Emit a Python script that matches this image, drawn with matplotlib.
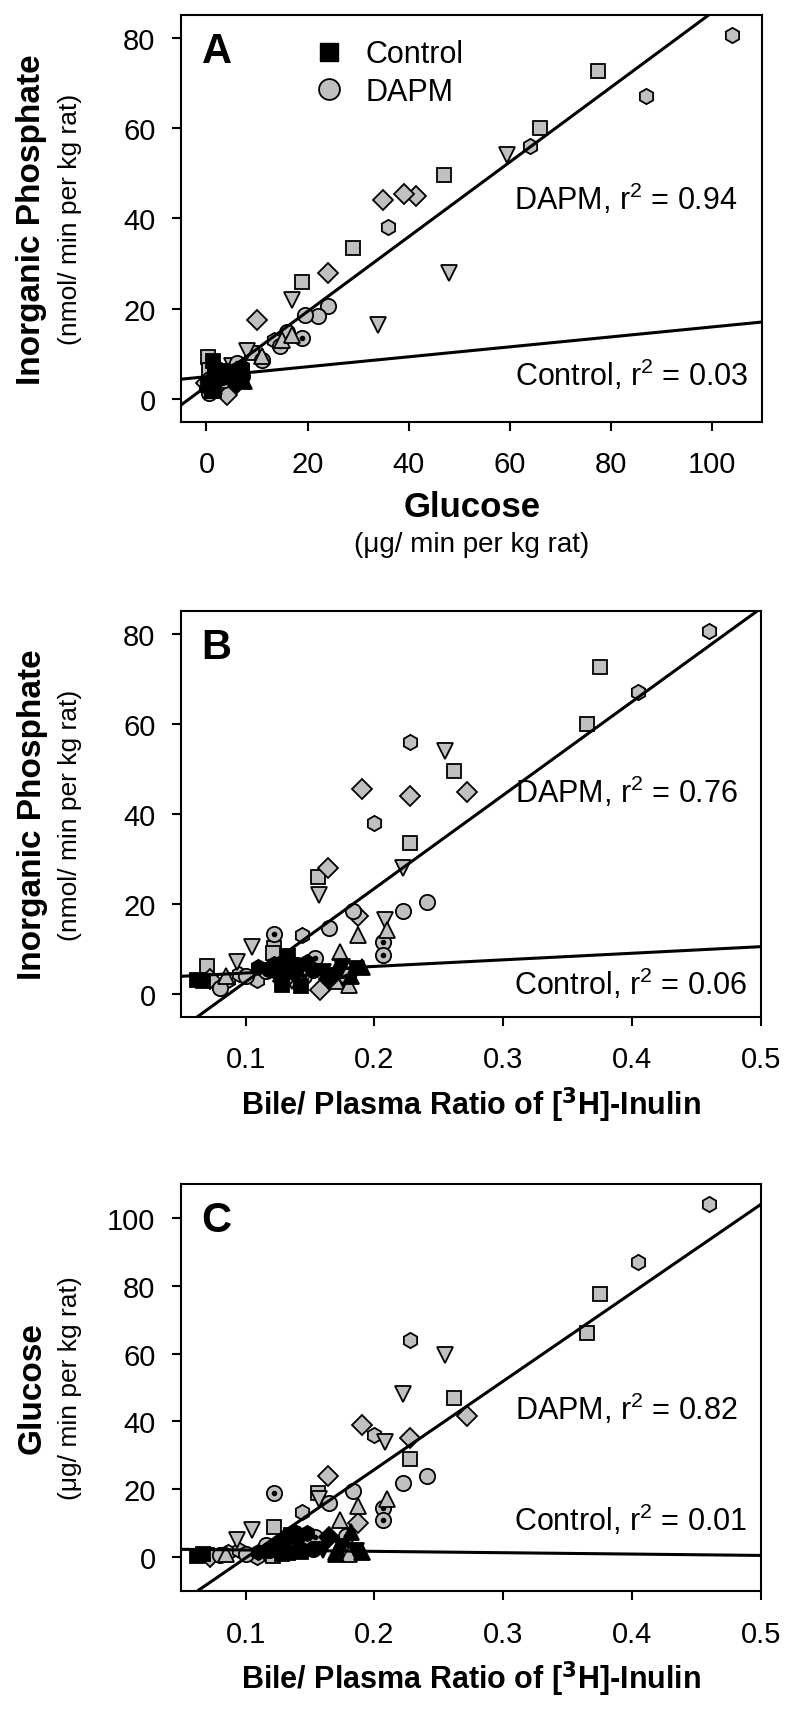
import matplotlib
matplotlib.use("Agg")
import numpy as np
import matplotlib.pyplot as plt
from matplotlib.lines import Line2D

plt.rcParams['font.family'] = ['Liberation Sans', 'DejaVu Sans']
plt.rcParams['mathtext.default'] = 'regular'

# DAPM-treated rats: bile/plasma inulin ratio, glucose, inorganic phosphate
dapm_rat = [1, 1, 1, 1, 1, 1, 1, 1,
            2, 2, 2, 2, 2, 2, 2, 2,
            3, 3, 3, 3, 3, 3, 3, 3,
            4, 4, 4, 4, 4, 4, 4, 4,
            5, 5, 5, 5, 5, 5,
            6, 6, 6, 6, 6, 6, 6, 6,
            7, 7, 7, 7, 7, 7]
dapm_bp = [0.460, 0.405, 0.228, 0.200, 0.144, 0.086, 0.109, 0.095,
           0.375, 0.365, 0.262, 0.228, 0.156, 0.122, 0.121, 0.070,
           0.255, 0.222, 0.208, 0.157, 0.105, 0.093, 0.136, 0.179,
           0.272, 0.190, 0.228, 0.164, 0.1875, 0.158, 0.072, 0.129,
           0.241, 0.222, 0.183, 0.165, 0.080, 0.100,
           0.122, 0.207, 0.207, 0.154, 0.178, 0.116, 0.145, 0.127,
           0.1875, 0.173, 0.210, 0.170, 0.180, 0.085]
dapm_glu = [104, 87, 64, 36, 13.4, 1.5, 0.0, 2.0,
            77.5, 66, 47, 29, 19, 9, 0.3, 0.5,
            59.5, 48, 34, 17, 8, 5, 1.5, 1.0,
            41.5, 39, 35, 24, 10, 4, 0.0, 2.0,
            24, 22, 19.4, 16, 0.5, 1.0,
            19, 14.5, 11, 6, 6.3, 3.5, 3.5, 4.5,
            15, 11, 17, 1.5, 1.0, 1.0]
dapm_pi = [80.5, 67, 56, 38, 13.1, 3.1, 3.1, 4.5,
           72.5, 60, 49.5, 33.5, 26, 10.2, 9.3, 6.4,
           54, 28, 16.5, 22, 10.6, 7.3, 2.9, 2.4,
           45, 45.5, 44, 28, 17.5, 1.0, 3.5, 2.9,
           20.6, 18.4, 18.6, 14.8, 1.5, 4.0,
           13.5, 11.7, 8.7, 8.0, 4.0, 5.3, 4.2, 5.3,
           13.1, 9.5, 14.2, 2.9, 2.0, 4.0]

# control rats
ctrl_rat = [2, 2, 2, 2, 2, 2, 1, 1, 1, 5, 5, 5, 3, 3, 3, 7, 7, 7, 4, 4, 6, 6]
ctrl_bp = [0.062, 0.067, 0.128, 0.143, 0.135, 0.133, 0.110, 0.122, 0.148,
           0.118, 0.140, 0.152, 0.160, 0.175, 0.186, 0.170, 0.190, 0.182,
           0.130, 0.165, 0.125, 0.138]
ctrl_glu = [0.3, 0.8, 1.0, 1.5, 6.5, 1.3, 1.5, 2.5, 7.0,
            2.0, 6.0, 2.5, 2.0, 3.0, 1.8, 1.0, 1.5, 7.5,
            5.0, 6.0, 3.0, 7.0]
ctrl_pi = [3.2, 3.0, 2.0, 1.8, 6.0, 8.5, 6.0, 6.8, 7.2,
           5.6, 6.5, 5.5, 5.0, 6.0, 5.6, 5.4, 6.2, 4.0,
           4.5, 3.5, 5.0, 5.2]

# regression lines: (slope, intercept)
fit_a_dapm = (0.826, 2.9)
fit_a_ctrl = (0.11, 5.0)
fit_b_dapm = (207.0, -17.9)
fit_b_ctrl = (14.6, 3.3)
fit_c_dapm = (260.6, -26.3)
fit_c_ctrl = (-4.0, 2.5)

r2_labels = {'A': ('0.94', '0.03'), 'B': ('0.76', '0.06'), 'C': ('0.82', '0.01')}

rat_marker = {1: 'h', 2: 's', 3: 'v', 4: 'D', 5: 'o', 6: 'o', 7: '^'}
rat_size = {1: 11, 2: 10.5, 3: 11, 4: 10, 5: 11, 6: 11, 7: 11}
gray = '#c0c0c0'


def scatter_group(ax, rats, xs, ys, face):
    rats = np.array(rats)
    xs = np.array(xs)
    ys = np.array(ys)
    for r in sorted(set(rats)):
        m = rats == r
        ax.plot(xs[m], ys[m], linestyle='none', marker=rat_marker[r],
                markersize=rat_size[r], markerfacecolor=face,
                markeredgecolor='black', markeredgewidth=1.3, zorder=3)
        if r == 6:
            ax.plot(xs[m], ys[m], linestyle='none', marker='o', markersize=3,
                    markerfacecolor='black', markeredgecolor='black', zorder=3)


def fit_line(ax, fit, xlim):
    xx = np.array(xlim)
    ax.plot(xx, fit[0] * xx + fit[1], color='black', lw=2.2, zorder=4,
            solid_capstyle='butt')


def style_axes(ax):
    for s in ax.spines.values():
        s.set_linewidth(1.5)
    ax.tick_params(direction='out', length=6.5, width=1.5, labelsize=21,
                   top=False, right=False)
    ax.tick_params(axis='x', pad=14)
    ax.tick_params(axis='y', pad=12)


fig = plt.figure(figsize=(8, 17.15), dpi=100)
axA = fig.add_axes([0.2265, 0.7534, 0.7265, 0.2373])
axB = fig.add_axes([0.2265, 0.4064, 0.7245, 0.2367])
axC = fig.add_axes([0.2265, 0.0717, 0.7245, 0.2373])

# ---- panel A
xlimA, ylimA = (-5, 110), (-5, 85)
scatter_group(axA, dapm_rat, dapm_glu, dapm_pi, gray)
scatter_group(axA, ctrl_rat, ctrl_glu, ctrl_pi, 'black')
fit_line(axA, fit_a_dapm, xlimA)
fit_line(axA, fit_a_ctrl, xlimA)
axA.set_xlim(xlimA)
axA.set_ylim(ylimA)
axA.set_xticks([0, 20, 40, 60, 80, 100])
axA.set_yticks([0, 20, 40, 60, 80])
style_axes(axA)
handles = [Line2D([], [], ls='none', marker='s', ms=13, mfc='black', mec='black'),
           Line2D([], [], ls='none', marker='o', ms=15, mfc=gray, mec='black', mew=1.3)]
axA.legend(handles, ['Control', 'DAPM'], loc='upper left', bbox_to_anchor=(0.18, 1.0),
           frameon=False, fontsize=22, handletextpad=0.6, labelspacing=0.25,
           handlelength=1.2, borderpad=0.3)
axA.text(0.958, 44.5, f'DAPM, r$^2$ = {r2_labels["A"][0]}', transform=axA.get_yaxis_transform(),
         ha='right', va='center', fontsize=22)
axA.text(0.975, 5.5, f'Control, r$^2$ = {r2_labels["A"][1]}', transform=axA.get_yaxis_transform(),
         ha='right', va='center', fontsize=22)
axA.set_xlabel('Glucose', fontsize=25, fontweight='bold', labelpad=8)
axA.text(0.5, -0.30, '(\u03bcg/ min per kg rat)', transform=axA.transAxes,
         ha='center', va='center', fontsize=20)

# ---- panel B
xlimB, ylimB = (0.05, 0.5), (-5, 85)
scatter_group(axB, dapm_rat, dapm_bp, dapm_pi, gray)
scatter_group(axB, ctrl_rat, ctrl_bp, ctrl_pi, 'black')
fit_line(axB, fit_b_dapm, xlimB)
fit_line(axB, fit_b_ctrl, xlimB)
axB.set_xlim(xlimB)
axB.set_ylim(ylimB)
axB.set_xticks([0.1, 0.2, 0.3, 0.4, 0.5])
axB.set_xticklabels(['0.1', '0.2', '0.3', '0.4', '0.5'])
axB.set_yticks([0, 20, 40, 60, 80])
style_axes(axB)
axB.text(0.96, 45, f'DAPM, r$^2$ = {r2_labels["B"][0]}', transform=axB.get_yaxis_transform(),
         ha='right', va='center', fontsize=22)
axB.text(0.977, 2.4, f'Control, r$^2$ = {r2_labels["B"][1]}', transform=axB.get_yaxis_transform(),
         ha='right', va='center', fontsize=22)

# ---- panel C
xlimC, ylimC = (0.05, 0.5), (-10, 110)
scatter_group(axC, dapm_rat, dapm_bp, dapm_glu, gray)
scatter_group(axC, ctrl_rat, ctrl_bp, ctrl_glu, 'black')
fit_line(axC, fit_c_dapm, xlimC)
fit_line(axC, fit_c_ctrl, xlimC)
axC.set_xlim(xlimC)
axC.set_ylim(ylimC)
axC.set_xticks([0.1, 0.2, 0.3, 0.4, 0.5])
axC.set_xticklabels(['0.1', '0.2', '0.3', '0.4', '0.5'])
axC.set_yticks([0, 20, 40, 60, 80, 100])
style_axes(axC)
axC.text(0.96, 44, f'DAPM, r$^2$ = {r2_labels["C"][0]}', transform=axC.get_yaxis_transform(),
         ha='right', va='center', fontsize=22)
axC.text(0.977, 11, f'Control, r$^2$ = {r2_labels["C"][1]}', transform=axC.get_yaxis_transform(),
         ha='right', va='center', fontsize=22)

bile_label = 'Bile/ Plasma Ratio of [$\\mathbf{^3}$H]-Inulin'
for ax in (axB, axC):
    ax.set_xlabel(bile_label, fontsize=22, fontweight='bold', labelpad=8)

# y labels: bold title plus units line
ylabels = [(axA, 'Inorganic Phosphate', '(nmol/ min per kg rat)'),
           (axB, 'Inorganic Phosphate', '(nmol/ min per kg rat)'),
           (axC, 'Glucose', '(\u03bcg/ min per kg rat)')]
for ax, main, sub in ylabels:
    ax.text(-0.257, 0.5, main, transform=ax.transAxes, rotation=90,
            ha='center', va='center', fontsize=24, fontweight='bold')
    ax.text(-0.191, 0.5, sub, transform=ax.transAxes, rotation=90,
            ha='center', va='center', fontsize=19)

for ax, letter in ((axA, 'A'), (axB, 'B'), (axC, 'C')):
    ax.text(0.035, 0.96, letter, transform=ax.transAxes, ha='left', va='top',
            fontsize=30, fontweight='bold')

fig.savefig('out.png', dpi=100)
